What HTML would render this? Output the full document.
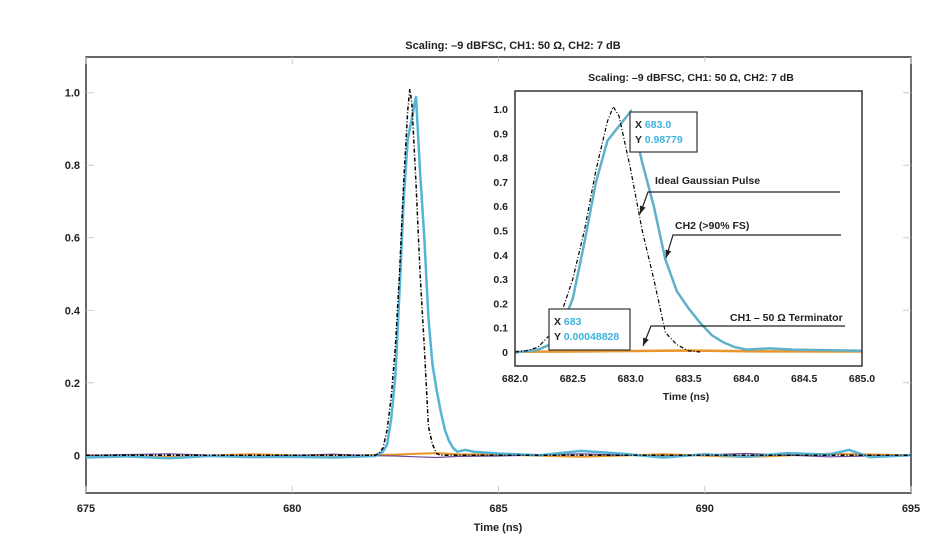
<!DOCTYPE html>
<html><head><meta charset="utf-8"><style>
body{margin:0;background:#fff;}
svg text{font-family:"Liberation Sans",sans-serif;font-weight:bold;fill:#222;}
</style></head><body>
<svg id="c" width="948" height="537" viewBox="0 0 948 537" xmlns="http://www.w3.org/2000/svg">
<text x="513" y="49" font-size="11" text-anchor="middle">Scaling: –9 dBFSC, CH1: 50 Ω, CH2: 7 dB</text>
<text x="498" y="531" font-size="11" text-anchor="middle">Time (ns)</text>
<g id="main"></g>
<g id="inset"></g>
</svg>
<script>
const idealT=[675,682.0,682.1,682.2,682.3,682.4,682.5,682.6,682.7,682.8,682.85,682.9,683.0,683.1,683.2,683.3,683.4,683.5,683.6,695];
const idealY=[0,0,0.005,0.02,0.07,0.16,0.3,0.5,0.75,0.95,1.01,0.97,0.75,0.5,0.3,0.08,0.03,0.005,0,0];
const ch2T=[675,676,677,678,679,680,681,682,682.2,682.3,682.4,682.5,682.6,682.7,682.8,682.9,683.0,683.1,683.2,683.3,683.4,683.5,683.6,683.7,683.8,683.9,684.0,684.2,684.4,685,686,687,688,689,690,691,692,693,693.5,694,695];
const ch2Y=[-0.006,-0.003,-0.008,-0.002,-0.005,-0.004,-0.006,-0.002,0.01,0.03,0.1,0.22,0.45,0.7,0.87,0.93,0.99,0.78,0.6,0.38,0.25,0.18,0.12,0.07,0.04,0.02,0.01,0.015,0.01,0.005,0.0,0.012,0.004,-0.006,0.003,-0.004,0.006,0.002,0.015,-0.005,0];
const ch1T=[675,677,679,681,682,682.5,683,683.5,684,685,687,689,691,693,695];
const ch1Y=[0,-0.004,0.003,-0.003,0.001,0.002,0.004,0.006,0.003,0.002,-0.004,0.003,-0.005,0.004,0];
const mainXTicks=[675,680,685,690,695];
const mainYTicks=[0,0.2,0.4,0.6,0.8,1.0];
const mainYLabels=["0","0.2","0.4","0.6","0.8","1.0"];
const insetXTicks=[682.0,682.5,683.0,683.5,684.0,684.5,685.0];
const insetYTicks=[0,0.1,0.2,0.3,0.4,0.5,0.6,0.7,0.8,0.9,1.0];
const insetYLabels=["0","0.1","0.2","0.3","0.4","0.5","0.6","0.7","0.8","0.9","1.0"];

const NS="http://www.w3.org/2000/svg";
function mk(tag,attrs,parent){const e=document.createElementNS(NS,tag);for(const k in attrs)e.setAttribute(k,attrs[k]);parent.appendChild(e);return e;}
function lin(d0,d1,r0,r1){return v=>r0+(v-d0)*(r1-r0)/(d1-d0);}
function path(T,Y,sx,sy,x0,x1){let d="";for(let i=0;i<T.length;i++){if(T[i]<x0||T[i]>x1)continue;d+=(d?"L":"M")+sx(T[i]).toFixed(1)+","+sy(Y[i]).toFixed(1);}return d;}

const g=document.getElementById('main');
const mx=lin(675,695,86,911), my=lin(0,1,455.3,92.7);
const frame=mk('rect',{x:86,y:57,width:825,height:436,fill:'none',stroke:'#333','stroke-width':1.5},g);


mainXTicks.forEach(t=>{
  mk('line',{x1:mx(t),x2:mx(t),y1:57,y2:64,stroke:'#ccc'},g);
  mk('line',{x1:mx(t),x2:mx(t),y1:486,y2:493,stroke:'#ccc'},g);
  const tx=mk('text',{x:mx(t),y:512,'font-size':11,'text-anchor':'middle'},g);tx.textContent=t;
  
  
});
mainYTicks.forEach((v,i)=>{
  mk('line',{x1:86,x2:94,y1:my(v),y2:my(v),stroke:'#ccc'},g);
  mk('line',{x1:903,x2:911,y1:my(v),y2:my(v),stroke:'#ccc'},g);
  const tx=mk('text',{x:80,y:my(v)+4,'font-size':11,'text-anchor':'end'},g);tx.textContent=mainYLabels[i];
  
  
});
let p=mk('path',{d:path(ch1T,ch1Y,mx,my,675,695),fill:'none',stroke:'#e8962a','stroke-width':2},g);


p=mk('path',{d:path(ch1T,ch1Y.map(v=>-v),mx,my,675,695),fill:'none',stroke:'#6b4c9a','stroke-width':1.2},g);


p=mk('path',{d:path(ch2T,ch2Y,mx,my,675,695),fill:'none',stroke:'#55b4d6','stroke-width':2.5},g);


p=mk('path',{d:path(idealT,idealY,mx,my,675,695),fill:'none',stroke:'#000','stroke-width':1.5,'stroke-dasharray':'4,2,1,2'},g);



const h=document.getElementById('inset');
const bg=mk('rect',{x:480,y:62,width:400,height:345,fill:'#fff'},h);


const ix=lin(682,685,515,862), iy=lin(0,1,352,109);
let t=mk('text',{x:691,y:81,'font-size':10.5,'text-anchor':'middle'},h);t.textContent="Scaling: –9 dBFSC, CH1: 50 Ω, CH2: 7 dB";


t=mk('text',{x:686,y:400,'font-size':10.5,'text-anchor':'middle'},h);t.textContent="Time (ns)";


insetXTicks.forEach(v=>{
  const tx=mk('text',{x:ix(v),y:382,'font-size':10.5,'text-anchor':'middle'},h);tx.textContent=v.toFixed(1);
  
  
});
insetYTicks.forEach((v,i)=>{
  const tx=mk('text',{x:508,y:iy(v)+4,'font-size':10.5,'text-anchor':'end'},h);tx.textContent=insetYLabels[i];
  
  
});
p=mk('path',{d:path(ch1T,ch1Y,ix,iy,682,685),fill:'none',stroke:'#e8962a','stroke-width':2.5},h);


p=mk('path',{d:path(ch2T,ch2Y,ix,iy,682,685),fill:'none',stroke:'#5fb0c8','stroke-width':2.5},h);


p=mk('path',{d:path(idealT,idealY,ix,iy,682,685),fill:'none',stroke:'#000','stroke-width':1.2,'stroke-dasharray':'4,2,1,2'},h);


const fr=mk('rect',{x:515,y:91,width:347,height:275,fill:'none',stroke:'#333','stroke-width':1.5},h);


function box(x,y,w,hh,l1,l2,name){
  const r=mk('rect',{x:x,y:y,width:w,height:hh,fill:'#fff',stroke:'#333','stroke-width':1.2},h);
  
  
  let a=mk('text',{x:x+5,y:y+16,'font-size':10.5},h);a.innerHTML='X <tspan style="fill:#3bb3dd">'+l1+'</tspan>';
  a=mk('text',{x:x+5,y:y+31,'font-size':10.5},h);a.innerHTML='Y <tspan style="fill:#3bb3dd">'+l2+'</tspan>';
}
box(630,112,67,40,'683.0','0.98779','datatip-ch2');
box(549,309,81,41,'683','0.00048828','datatip-ch1');
function ann(tx,ty,label,lx0,lx1,ly,ax,ay,name){
  const a=mk('text',{x:tx,y:ty,'font-size':10.5},h);a.textContent=label;
  
  
  mk('polyline',{points:`${lx1},${ly} ${lx0},${ly} ${ax},${ay}`,fill:'none',stroke:'#222','stroke-width':1.2},h);
  const dx=ax-lx0,dy=ay-ly,L=Math.hypot(dx,dy),ux=dx/L,uy=dy/L;
  mk('polygon',{points:`${ax},${ay} ${ax-ux*8-uy*3},${ay-uy*8+ux*3} ${ax-ux*8+uy*3},${ay-uy*8-ux*3}`,fill:'#222'},h);
}
ann(655,184,'Ideal Gaussian Pulse',648,840,192,640,214,'ideal-gaussian-annotation');
ann(675,229,'CH2 (>90% FS)',673,841,235,666,258,'ch2-annotation');
ann(730,321,'CH1 – 50 Ω Terminator',651,845,326,643,346,'ch1-annotation');
</script>
</body></html>
